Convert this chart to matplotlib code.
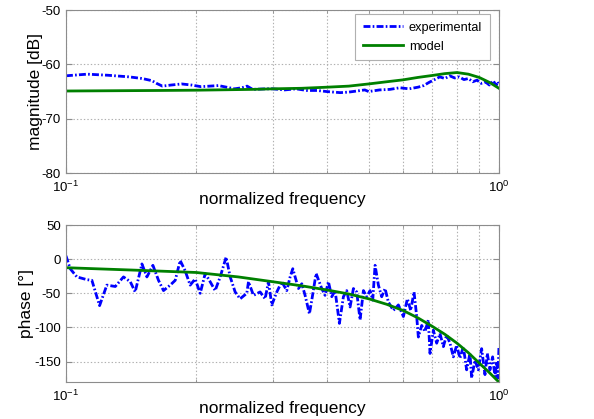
import matplotlib
matplotlib.use("Agg")
import matplotlib.pyplot as plt
from matplotlib.ticker import LogLocator, MultipleLocator, NullFormatter

plt.rcParams['font.family'] = ['Liberation Sans', 'DejaVu Sans']
plt.rcParams['mathtext.fontset'] = 'custom'
plt.rcParams['mathtext.rm'] = 'Liberation Sans'
plt.rcParams['lines.scale_dashes'] = False
plt.rcParams['axes.unicode_minus'] = False

# ---- magnitude data ----
mag_exp_f = [0.100, 0.112, 0.125, 0.140, 0.150, 0.158, 0.162, 0.167, 0.175, 0.185,
             0.195, 0.205, 0.215, 0.225, 0.235, 0.245, 0.255, 0.262, 0.270, 0.290,
             0.300, 0.320, 0.340, 0.360, 0.380, 0.400, 0.430, 0.450, 0.470, 0.490,
             0.500, 0.530, 0.560, 0.590, 0.620, 0.650, 0.670, 0.690, 0.710, 0.730,
             0.750, 0.770, 0.790, 0.810, 0.830, 0.850, 0.870, 0.890, 0.910, 0.930,
             0.950, 0.970, 0.985, 0.995, 1.000]
mag_exp = [-62.1, -61.8, -62.0, -62.3, -62.6, -63.0, -63.5, -64.0, -63.8, -63.6,
           -63.8, -64.1, -64.0, -63.9, -64.2, -64.5, -64.3, -64.0, -64.6, -64.5,
           -64.5, -64.7, -64.5, -64.8, -64.8, -65.0, -65.2, -65.1, -64.9, -64.7,
           -65.0, -64.7, -64.6, -64.3, -64.5, -64.2, -63.9, -63.3, -62.8, -62.3,
           -62.6, -62.1, -62.5, -62.3, -62.8, -62.6, -63.2, -62.9, -63.5, -63.2,
           -63.8, -63.0, -63.9, -63.2, -63.8]

mag_mod_f = [0.10, 0.165, 0.20, 0.27, 0.30, 0.35, 0.40, 0.45, 0.50, 0.55,
             0.60, 0.65, 0.70, 0.75, 0.80, 0.85, 0.90, 0.95, 1.00]
mag_mod = [-64.9, -64.8, -64.75, -64.6, -64.5, -64.4, -64.2, -64.0, -63.6, -63.2,
           -62.85, -62.4, -62.05, -61.7, -61.5, -61.8, -62.4, -63.3, -64.4]

# ---- phase data ----
ph_exp_f = [0.1000, 0.1023, 0.1060, 0.1118, 0.1148, 0.1196, 0.1243, 0.1300, 0.1358, 0.1408,
            0.1445, 0.1498, 0.1538, 0.1588, 0.1636, 0.1680, 0.1741, 0.1788, 0.1836, 0.1885,
            0.1936, 0.1988, 0.2042, 0.2097, 0.2153, 0.2211, 0.2271, 0.2344, 0.2395, 0.2459,
            0.2525, 0.2616, 0.2640, 0.2711, 0.2808, 0.2884, 0.2936, 0.2988, 0.3069, 0.3151,
            0.3236, 0.3294, 0.3341, 0.3443, 0.3505, 0.3567, 0.3650, 0.3696, 0.3782, 0.3897,
            0.3967, 0.4038, 0.4110, 0.4184, 0.4281, 0.4373, 0.4451, 0.4531, 0.4612, 0.4694,
            0.4778, 0.4864, 0.4950, 0.5039, 0.5111, 0.5175, 0.5267, 0.5361, 0.5457, 0.5555,
            0.5704, 0.5858, 0.6016, 0.6145, 0.6254, 0.6366, 0.6457, 0.6514, 0.6630, 0.6749,
            0.6869, 0.6931, 0.7055, 0.7181, 0.7309, 0.7440, 0.7572, 0.7708, 0.7846, 0.7986,
            0.8128, 0.8274, 0.8421, 0.8572, 0.8648, 0.8803, 0.8960, 0.9120, 0.9283, 0.9399,
            0.9533, 0.9669, 0.9790, 0.9877, 0.9947, 1.0000]
ph_exp = [5, -14, -26, -30, -31, -68, -38, -40, -26, -33,
          -48, -7, -26, -9, -31, -46, -38, -31, -2, -17,
          -38, -29, -50, -21, -33, -46, -26, 3, -26, -48,
          -58, -50, -33, -53, -48, -58, -33, -67, -48, -33,
          -46, -26, -14, -43, -36, -53, -80, -60, -21, -43,
          -53, -33, -55, -46, -94, -55, -46, -70, -43, -48,
          -89, -46, -55, -46, -60, -9, -38, -55, -43, -63,
          -75, -67, -84, -58, -75, -48, -84, -114, -97, -106,
          -89, -138, -104, -123, -109, -128, -111, -123, -143, -126,
          -145, -128, -162, -138, -174, -148, -162, -131, -169, -138,
          -162, -143, -172, -150, -174, -128]

ph_mod_f = [0.10, 0.143, 0.20, 0.25, 0.30, 0.35, 0.40, 0.45, 0.50, 0.55,
            0.60, 0.65, 0.70, 0.75, 0.80, 0.85, 0.90, 0.95, 1.00]
ph_mod = [-12.5, -16, -19.5, -26, -33, -39, -45, -51, -58, -66,
          -75, -86, -98, -110, -123, -137, -152, -166, -180]

BLUE = '#0000ff'
GREEN = '#008000'
GRAY = '#8c8c8c'
DASH = (0, (5, 1.6, 1.2, 1.6))

fig = plt.figure(figsize=(5.94, 4.19), dpi=100)
ax1 = fig.add_axes([0.111, 0.587, 0.729, 0.389])
ax2 = fig.add_axes([0.111, 0.088, 0.729, 0.375])


def style(ax):
    ax.set_xscale('log')
    ax.set_xlim(0.1, 1.0)
    ax.xaxis.set_major_locator(LogLocator(base=10, numticks=5))
    ax.xaxis.set_minor_locator(LogLocator(base=10, subs=range(2, 10), numticks=20))
    ax.xaxis.set_minor_formatter(NullFormatter())
    ax.grid(True, which='both', axis='x', linestyle=(0, (1, 1.5)), color='#b0b0b0', linewidth=0.8)
    ax.grid(True, which='major', axis='y', linestyle=(0, (1, 1.5)), color='#b0b0b0', linewidth=0.8)
    ax.tick_params(which='both', direction='in', color=GRAY, labelsize=9.5, top=True, right=True)
    ax.tick_params(which='major', length=4)
    ax.tick_params(which='minor', length=2)
    ax.tick_params(axis='x', pad=5)
    for s in ax.spines.values():
        s.set_color(GRAY)
        s.set_linewidth(0.8)
    ax.set_xlabel('normalized frequency', fontsize=12.5, labelpad=-2)


# magnitude
ax1.plot(mag_exp_f, mag_exp, color=BLUE, linestyle=DASH, linewidth=2, label='experimental')
ax1.plot(mag_mod_f, mag_mod, color=GREEN, linewidth=2, label='model')
style(ax1)
ax1.set_ylim(-80, -50)
ax1.yaxis.set_major_locator(MultipleLocator(10))
ax1.set_ylabel('magnitude [dB]', fontsize=12.5, labelpad=-0.5)
leg = ax1.legend(loc='upper right', bbox_to_anchor=(0.979, 0.975), borderaxespad=0,
                 fontsize=9.2, handlelength=3.1, borderpad=0.6, labelspacing=0.55,
                 handletextpad=0.5, fancybox=False, framealpha=1)
leg.get_frame().set_edgecolor('#b0b0b0')
leg.get_frame().set_linewidth(0.8)

# phase
ax2.plot(ph_exp_f, ph_exp, color=BLUE, linestyle=DASH, linewidth=2)
ax2.plot(ph_mod_f, ph_mod, color=GREEN, linewidth=2)
style(ax2)
ax2.set_ylim(-180, 50)
ax2.set_yticks([-150, -100, -50, 0, 50])
ax2.set_ylabel('phase [°]', fontsize=12.5, labelpad=0.5)

fig.savefig('out.png', dpi=100)
